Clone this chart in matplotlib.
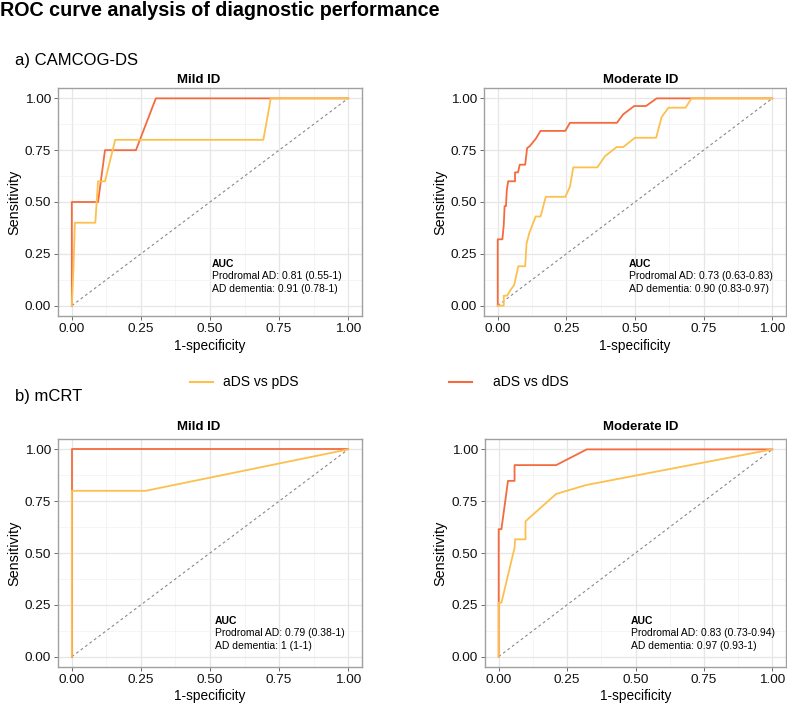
import matplotlib
matplotlib.use("Agg")
from matplotlib import pyplot as plt
from matplotlib.lines import Line2D

plt.rcParams['font.family'] = ['Liberation Sans', 'DejaVu Sans']

W, H = 787, 703

# ROC points (1-specificity, sensitivity)
camcog_mild_pds_fpr = [0, 0.006, 0.011, 0.085, 0.095, 0.12, 0.157, 0.693, 0.72, 1]
camcog_mild_pds_tpr = [0, 0.18, 0.4, 0.4, 0.6, 0.6, 0.8, 0.8, 1, 1]
camcog_mild_dds_fpr = [0, 0, 0.095, 0.12, 0.232, 0.304, 1]
camcog_mild_dds_tpr = [0, 0.5, 0.5, 0.75, 0.75, 1, 1]

camcog_mod_pds_fpr = [0, 0.022, 0.022, 0.034, 0.049, 0.06, 0.075, 0.1, 0.105, 0.115,
                      0.138, 0.156, 0.175, 0.246, 0.263, 0.275, 0.363, 0.39, 0.433,
                      0.457, 0.5, 0.577, 0.597, 0.622, 0.684, 0.706, 1]
camcog_mod_pds_tpr = [0, 0, 0.048, 0.048, 0.08, 0.10, 0.19, 0.19, 0.30, 0.35,
                      0.43, 0.43, 0.525, 0.525, 0.573, 0.667, 0.667, 0.72, 0.765,
                      0.765, 0.81, 0.81, 0.91, 0.955, 0.955, 1, 1]
camcog_mod_dds_fpr = [0, 0, 0.017, 0.022, 0.025, 0.03, 0.033, 0.038, 0.063, 0.063,
                      0.074, 0.08, 0.1, 0.107, 0.117, 0.139, 0.156, 0.246, 0.263,
                      0.434, 0.457, 0.497, 0.54, 0.579, 1]
camcog_mod_dds_tpr = [0, 0.32, 0.32, 0.39, 0.48, 0.48, 0.557, 0.60, 0.60, 0.643,
                      0.643, 0.68, 0.68, 0.76, 0.77, 0.806, 0.843, 0.843, 0.882,
                      0.882, 0.923, 0.963, 0.963, 1, 1]

mcrt_mild_pds_fpr = [0, 0, 0.267, 1]
mcrt_mild_pds_tpr = [0, 0.8, 0.8, 1]
mcrt_mild_dds_fpr = [0, 0, 1]
mcrt_mild_dds_tpr = [0, 1, 1]

mcrt_mod_pds_fpr = [0, 0, 0.01, 0.058, 0.06, 0.098, 0.098, 0.21, 0.32, 1]
mcrt_mod_pds_tpr = [0, 0.26, 0.26, 0.525, 0.566, 0.566, 0.653, 0.785, 0.828, 1]
mcrt_mod_dds_fpr = [0, 0, 0.01, 0.034, 0.058, 0.058, 0.21, 0.322, 1]
mcrt_mod_dds_tpr = [0, 0.615, 0.615, 0.848, 0.848, 0.924, 0.924, 1, 1]

auc_texts = [
    ("Prodromal AD: 0.81 (0.55-1)", "AD dementia: 0.91 (0.78-1)"),
    ("Prodromal AD: 0.73 (0.63-0.83)", "AD dementia: 0.90 (0.83-0.97)"),
    ("Prodromal AD: 0.79 (0.38-1)", "AD dementia: 1 (1-1)"),
    ("Prodromal AD: 0.83 (0.73-0.94)", "AD dementia: 0.97 (0.93-1)"),
]
panel_titles = ["Mild ID", "Moderate ID", "Mild ID", "Moderate ID"]
ticks = [0, 0.25, 0.5, 0.75, 1.0]
tick_labels = ["0.00", "0.25", "0.50", "0.75", "1.00"]

YELLOW = '#FDC04E'
RED = '#F46B40'

fig = plt.figure(figsize=(W / 100, H / 100), dpi=100)


def fx(x):
    return x / W


def fy(y):
    return 1 - y / H


def px_axes(l, t, r, b):
    return fig.add_axes([l / W, 1 - b / H, (r - l) / W, (b - t) / H])


def style_axes(ax):
    ax.set_xlim(-0.05, 1.05)
    ax.set_ylim(-0.05, 1.05)
    ax.set_xticks(ticks)
    ax.set_yticks(ticks)
    ax.set_xticklabels(tick_labels)
    ax.set_yticklabels(tick_labels)
    ax.set_xticks([0.125, 0.375, 0.625, 0.875], minor=True)
    ax.set_yticks([0.125, 0.375, 0.625, 0.875], minor=True)
    ax.grid(which='major', color='#E6E6E6', linewidth=0.9)
    ax.grid(which='minor', color='#F1F1F1', linewidth=0.5)
    ax.set_axisbelow(True)
    ax.tick_params(which='major', length=3, width=0.6, color='#555555',
                   labelsize=9.7, labelcolor='#111111', pad=2)
    ax.tick_params(which='minor', length=0)
    for s in ax.spines.values():
        s.set_color('#A0A0A0')
        s.set_linewidth(1.0)


# (left, top, right, bottom) in pixels
boxes = [(58, 88, 362, 316), (484, 88, 786, 316),
         (58, 439, 362, 667), (485, 439, 786, 667)]
series = [
    (camcog_mild_pds_fpr, camcog_mild_pds_tpr, camcog_mild_dds_fpr, camcog_mild_dds_tpr),
    (camcog_mod_pds_fpr, camcog_mod_pds_tpr, camcog_mod_dds_fpr, camcog_mod_dds_tpr),
    (mcrt_mild_pds_fpr, mcrt_mild_pds_tpr, mcrt_mild_dds_fpr, mcrt_mild_dds_tpr),
    (mcrt_mod_pds_fpr, mcrt_mod_pds_tpr, mcrt_mod_dds_fpr, mcrt_mod_dds_tpr),
]
title_x = [199, 641, 199, 641]
title_y = [83, 83, 430, 430]
ylabel_x = [14, 440, 14, 440]
auc_left = [212, 629, 215, 631]
auc_base = [267, 267, 624, 624]
xlabel_top = [339, 339, 689, 689]

for i, ax_box in enumerate(boxes):
    ax = px_axes(*ax_box)
    style_axes(ax)
    pf, pt, df, dt = series[i]
    ax.plot([0, 1], [0, 1], color='#888888', linewidth=0.8, linestyle=(0, (2.5, 2.5)))
    ax.plot(df, dt, color=RED, linewidth=1.3)
    ax.plot(pf, pt, color=YELLOW, linewidth=1.3)

    l, t, r, b = ax_box
    fig.text(fx(title_x[i]), fy(title_y[i]), panel_titles[i], fontsize=9.5,
             fontweight='bold', ha='center', va='baseline')
    fig.text(fx(ylabel_x[i]), fy((t + b) / 2), "Sensitivity", fontsize=10.4,
             rotation=90, ha='center', va='center')
    fig.text(fx((l + r) / 2), fy(xlabel_top[i]), "1-specificity", fontsize=9.8,
             ha='center', va='top')
    fig.text(fx(auc_left[i]), fy(auc_base[i]), "AUC", fontsize=7.5,
             fontweight='bold', ha='left', va='baseline')
    fig.text(fx(auc_left[i]), fy(auc_base[i] + 12.3), auc_texts[i][0], fontsize=7.5,
             ha='left', va='baseline')
    fig.text(fx(auc_left[i]), fy(auc_base[i] + 24.6), auc_texts[i][1], fontsize=7.5,
             ha='left', va='baseline')

fig.text(fx(0), fy(16), "ROC curve analysis of diagnostic performance",
         fontsize=14.2, fontweight='bold', ha='left', va='baseline')
fig.text(fx(15), fy(65), "a) CAMCOG-DS", fontsize=12, ha='left', va='baseline')
fig.text(fx(15), fy(401), "b) mCRT", fontsize=12, ha='left', va='baseline')

# legend
fig.add_artist(Line2D([fx(190), fx(213)], [fy(382), fy(382)], color=YELLOW, linewidth=1.5))
fig.text(fx(223), fy(382), "aDS vs pDS", fontsize=10, ha='left', va='center')
fig.add_artist(Line2D([fx(449), fx(472)], [fy(382), fy(382)], color=RED, linewidth=1.5))
fig.text(fx(493), fy(382), "aDS vs dDS", fontsize=10, ha='left', va='center')

fig.savefig("out.png", dpi=100, facecolor='white')
